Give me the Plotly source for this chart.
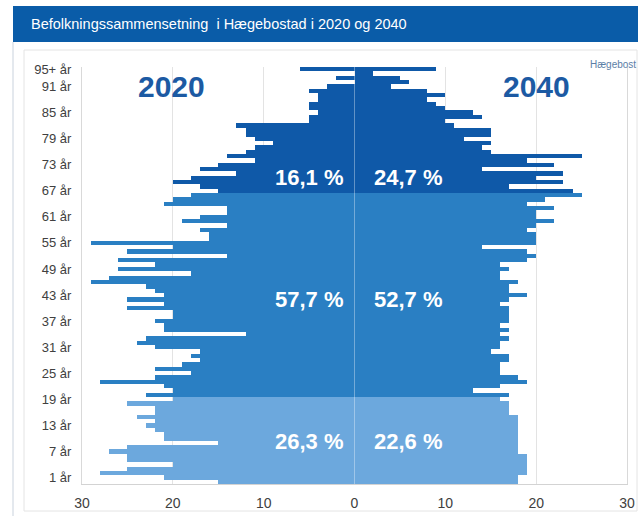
import plotly.graph_objects as go

# ---------------- data ----------------
ages = list(range(96))
tick_ages = [1, 7, 13, 19, 25, 31, 37, 43, 49, 55, 61, 67, 73, 79, 85, 91, 95]
tick_labels = ["1 år", "7 år", "13 år", "19 år", "25 år", "31 år", "37 år", "43 år",
               "49 år", "55 år", "61 år", "67 år", "73 år", "79 år", "85 år", "91 år", "95+ år"]

pop_2020 = [15, 21, 28, 25, 20, 25, 25, 27, 25, 15,
            21, 21, 22, 23, 22, 24, 22, 22, 25, 20,
            23, 20, 21, 28, 22, 18, 22, 19, 17, 18,
            17, 22, 24, 23, 12, 21, 21, 22, 20, 20,
            25, 21, 25, 21, 22, 23, 29, 27, 18, 26,
            22, 26, 14, 25, 20, 29, 16, 16, 17, 14,
            19, 17, 14, 14, 21, 20, 18, 15, 17, 20,
            18, 13, 17, 15, 11, 14, 12, 11, 9, 11,
            12, 12, 13, 5, 5, 4, 5, 5, 4, 4,
            5, 3, 0, 2, 0, 6]

pop_2040 = [18, 18, 19, 19, 19, 19, 19, 18, 18, 18,
            18, 18, 18, 18, 18, 18, 17, 17, 17, 16,
            17, 13, 16, 19, 18, 16, 16, 16, 17, 17,
            15, 16, 16, 17, 16, 17, 16, 17, 17, 17,
            17, 16, 17, 19, 17, 17, 18, 16, 16, 17,
            16, 19, 20, 19, 14, 20, 20, 20, 19, 20,
            22, 20, 20, 22, 19, 21, 25, 24, 17, 23,
            20, 23, 14, 22, 19, 25, 15, 14, 15, 12,
            15, 15, 11, 10, 14, 13, 10, 9, 8, 10,
            8, 4, 6, 5, 2, 9]

share_2020 = ["26,3 %", "57,7 %", "16,1 %"]
share_2040 = ["22,6 %", "52,7 %", "24,7 %"]
x_ticks = [-30, -20, -10, 0, 10, 20, 30]
x_tick_text = ["30", "20", "10", "0", "10", "20", "30"]

# ---------------- style ----------------
W, H = 638, 516
ML, MR, MT, MB = 82, 11, 67, 32
PW, PH = W - ML - MR, H - MT - MB

LIGHT, MEDIUM, DARK = "#6ca8dd", "#2a7fc3", "#0f59a8"
BAND = "#0a5ca8"
FONT = "Liberation Sans, Arial, sans-serif"


def px(x):
    return (x - ML) / PW


def py(y):
    return (H - MB - y) / PH


def group_color(a):
    if a <= 19:
        return LIGHT
    if a <= 66:
        return MEDIUM
    return DARK


colors = [group_color(a) for a in ages]

fig = go.Figure()
fig.add_trace(go.Bar(y=ages, x=[-v for v in pop_2020], orientation="h",
                     marker=dict(color=colors, line=dict(width=0)),
                     hoverinfo="skip", name="2020"))
fig.add_trace(go.Bar(y=ages, x=pop_2040, orientation="h",
                     marker=dict(color=colors, line=dict(width=0)),
                     hoverinfo="skip", name="2040"))

shapes = [
    dict(type="rect", xref="paper", yref="paper", x0=px(13), x1=px(640), y0=py(6), y1=py(42),
         fillcolor=BAND, line=dict(width=0), layer="below"),
    dict(type="line", xref="paper", yref="paper", x0=px(13), x1=px(13), y0=py(42), y1=py(517),
         line=dict(color="#c9d2dd", width=1), layer="below"),
    dict(type="rect", xref="paper", yref="paper", x0=px(24), x1=px(637), y0=py(50), y1=py(511),
         line=dict(color="#e4e4e4", width=1), layer="below"),
    dict(type="line", xref="x", yref="y", x0=0, x1=0, y0=-0.5, y1=95.5,
         line=dict(color="rgba(255,255,255,0.35)", width=1), layer="above"),
]

annotations = [
    dict(text="Befolkningssammensetning  i Hægebostad i 2020 og 2040", xref="paper", yref="paper",
         x=px(29), y=py(24), xanchor="left", yanchor="middle", showarrow=False,
         font=dict(family=FONT, size=14.5, color="white")),
    dict(text="<b>2020</b>", xref="paper", yref="paper", x=px(171), y=py(86),
         xanchor="center", yanchor="middle", showarrow=False,
         font=dict(family=FONT, size=30, color="#1c5aa3")),
    dict(text="<b>2040</b>", xref="paper", yref="paper", x=px(536), y=py(86),
         xanchor="center", yanchor="middle", showarrow=False,
         font=dict(family=FONT, size=30, color="#1c5aa3")),
    dict(text="Hægebost", xref="paper", yref="paper", x=px(588), y=py(64),
         xanchor="left", yanchor="middle", showarrow=False,
         font=dict(family=FONT, size=10, color="#5b7ea6")),
]

label_y = [441, 299, 177]
for i in range(3):
    annotations.append(dict(text="<b>" + share_2020[i] + "</b>", xref="paper", yref="paper",
                            x=px(309), y=py(label_y[i]), xanchor="center", yanchor="middle",
                            showarrow=False, font=dict(family=FONT, size=22, color="white")))
    annotations.append(dict(text="<b>" + share_2040[i] + "</b>", xref="paper", yref="paper",
                            x=px(408), y=py(label_y[i]), xanchor="center", yanchor="middle",
                            showarrow=False, font=dict(family=FONT, size=22, color="white")))

fig.update_layout(
    width=W, height=H,
    margin=dict(l=ML, r=MR, t=MT, b=MB, pad=0, autoexpand=False),
    paper_bgcolor="white", plot_bgcolor="white",
    barmode="relative", bargap=0,
    showlegend=False,
    shapes=shapes, annotations=annotations,
    font=dict(family=FONT, color="#404040"),
    xaxis=dict(range=[-30, 30], tickvals=x_ticks, ticktext=x_tick_text, automargin=False,
               showgrid=True, gridcolor="#e3e3e3", gridwidth=1, zeroline=False,
               showline=True, linecolor="#d3d3d3", linewidth=1,
               ticks="", ticklabelstandoff=6,
               tickfont=dict(family=FONT, size=14, color="#404040"), fixedrange=True),
    yaxis=dict(range=[-0.5, 95.5], tickvals=tick_ages, ticktext=tick_labels, automargin=False,
               showgrid=False, zeroline=False, showline=True, mirror=True,
               linecolor="#d9d9d9", linewidth=1, ticks="", ticklabelstandoff=7,
               tickfont=dict(family=FONT, size=13, color="#404040"), fixedrange=True),
)

fig.write_html(
    "out.html",
    config={"displayModeBar": False, "staticPlot": True},
    post_script="document.body.style.margin='0';document.body.style.overflow='hidden';",
)
